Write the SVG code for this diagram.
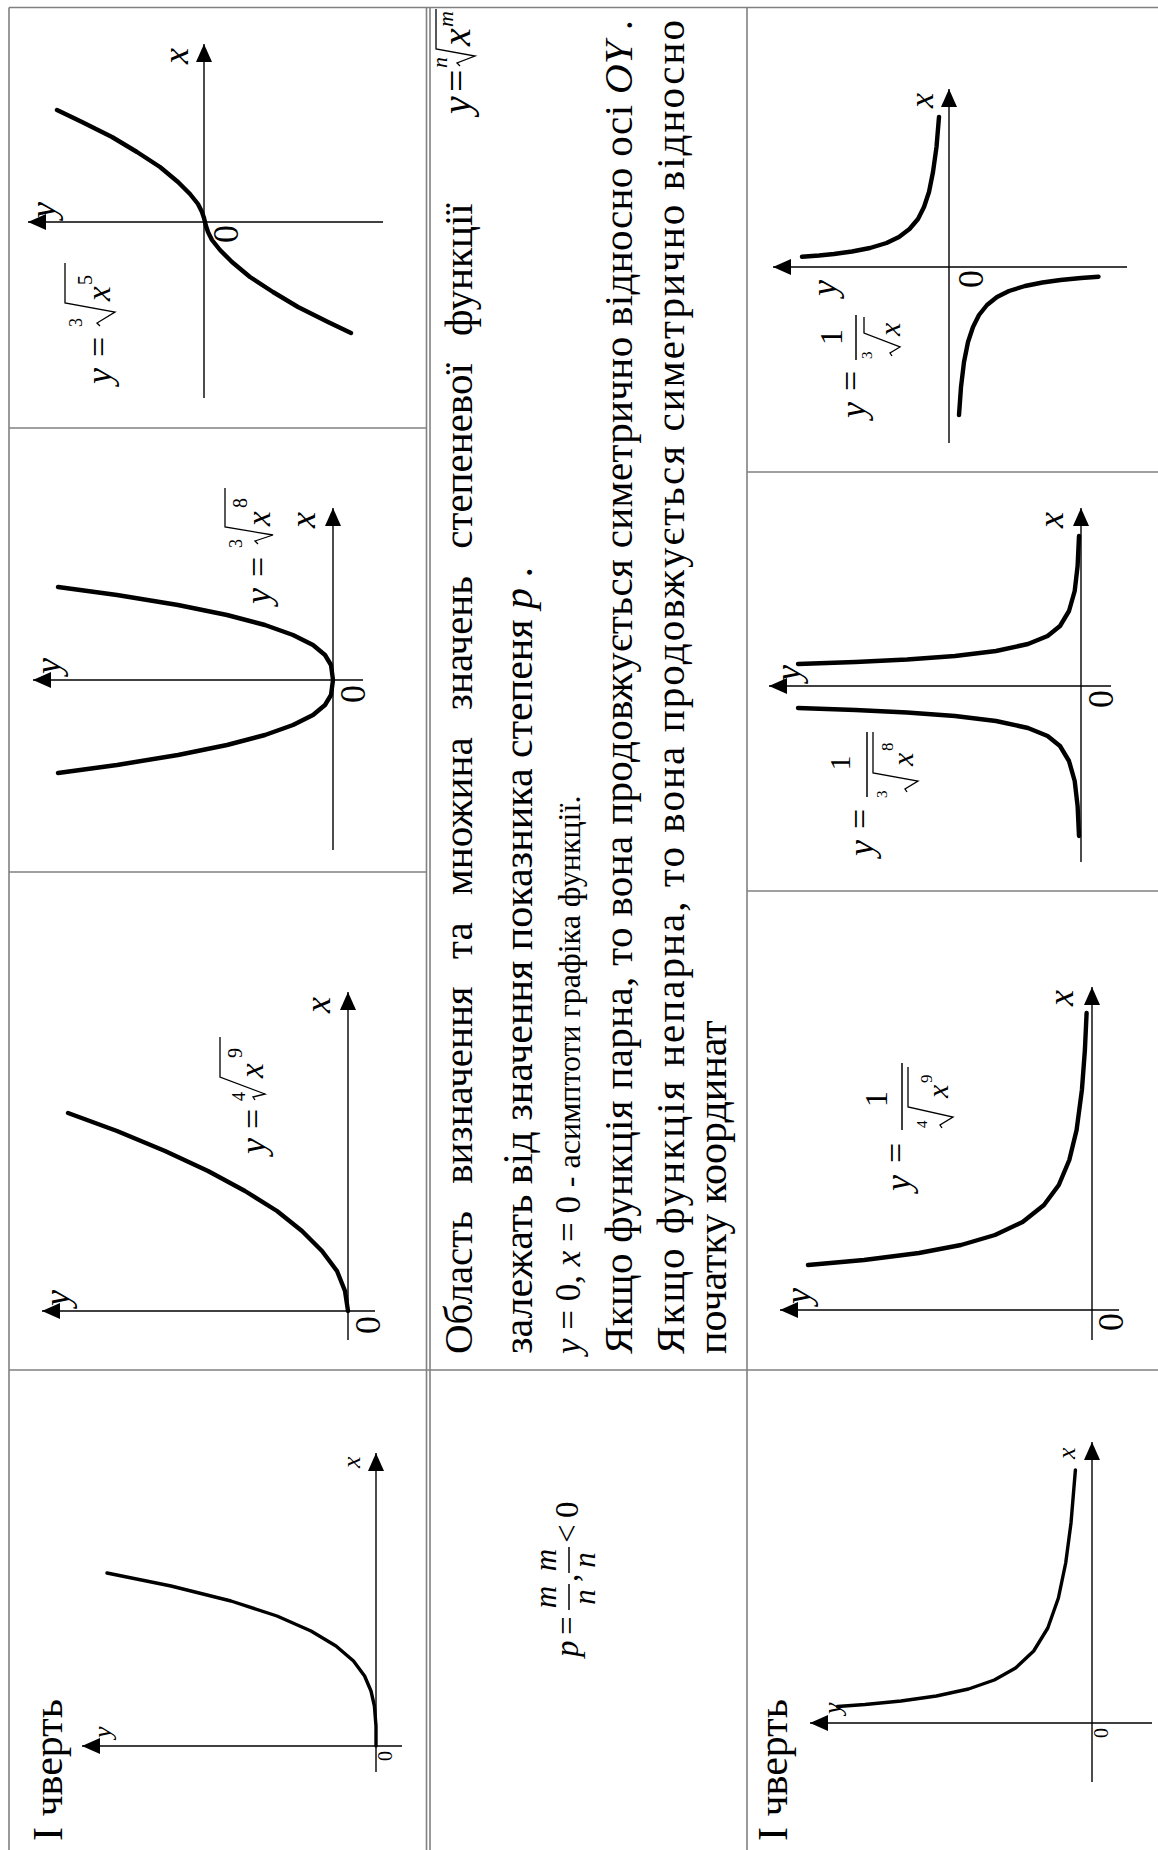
<svg xmlns="http://www.w3.org/2000/svg" width="1158" height="1850" viewBox="0 0 1158 1850">
<style>
text{font-family:"Liberation Serif","Times New Roman",serif;fill:#000}
.i{font-style:italic}
.grid{stroke:#808080;stroke-width:1.6;fill:none}
.ax{stroke:#000;stroke-width:1.4;fill:none;marker-end:url(#arr)}
.cv{stroke:#000;stroke-width:4.4;fill:none;stroke-linecap:round;stroke-linejoin:round}
.cv2{stroke-width:3.4}
.rad{stroke:#000;stroke-width:1.3;fill:none;stroke-linejoin:miter}
.bar{stroke:#000;stroke-width:1.5}
.p{font-size:41px}
</style>
<defs>
<marker id="arr" markerUnits="userSpaceOnUse" markerWidth="18" markerHeight="16" refX="18" refY="8" orient="auto" viewBox="0 0 18 16"><path d="M0,0 L18,8 L0,16 Z" fill="#000"/></marker>
</defs>
<rect width="1158" height="1850" fill="#fff"/>

<g id="table" class="grid">
<line x1="9" y1="7.5" x2="1158" y2="7.5"/>
<line x1="9" y1="7.5" x2="9" y2="1850"/>
<line x1="426.5" y1="7.5" x2="426.5" y2="1850"/>
<line x1="430" y1="7.5" x2="430" y2="1850"/>
<line x1="747" y1="7.5" x2="747" y2="1850"/>
<line x1="9" y1="428" x2="426.5" y2="428"/>
<line x1="9" y1="872" x2="426.5" y2="872"/>
<line x1="747" y1="472" x2="1158" y2="472"/>
<line x1="747" y1="891" x2="1158" y2="891"/>
<line x1="9" y1="1370" x2="1158" y2="1370"/>
</g>

<g id="cell-cbrt-x5">
<line class="ax" x1="204" y1="398" x2="204" y2="44"/>
<line class="ax" x1="383" y1="222" x2="28" y2="222"/>
<polyline class="cv" points="57,110 82,122 112,137 137,152 160,167 178,182 190,194 198,204 202,212 204,218 205,222 206,226 208,232 212,240 220,250 232,262 250,277 273,292 298,307 328,322 351,333"/>
<text class="i" font-size="36" x="188" y="64" transform="rotate(-90 188 64)">x</text>
<text class="i" font-size="36" x="55" y="218" transform="rotate(-90 55 218)">y</text>
<text font-size="36" x="238" y="243" transform="rotate(-90 238 243)">0</text>
<text class="i" font-size="36" x="111" y="384" transform="rotate(-90 111 384)">y</text>
<text font-size="36" x="111" y="357" transform="rotate(-90 111 357)">=</text>
<text font-size="18" x="82" y="327" transform="rotate(-90 82 327)">3</text>
<path class="rad" d="M100,326 L97,323 L115,312 L65,303 L65,263"/>
<text class="i" font-size="33" x="110" y="301" transform="rotate(-90 110 301)">x</text>
<text font-size="20" x="92" y="285" transform="rotate(-90 92 285)">5</text>
</g>

<g id="cell-cbrt-x8">
<line class="ax" x1="333" y1="850" x2="333" y2="508"/>
<line class="ax" x1="363" y1="680" x2="33" y2="680"/>
<polyline class="cv" points="58,587 117,595 178,605 227,615 265,625 293,635 313,645 325,655 331,665 333,680 331,695 325,705 313,715 293,725 265,735 227,745 178,755 117,765 58,773"/>
<text class="i" font-size="36" x="315" y="528" transform="rotate(-90 315 528)">x</text>
<text class="i" font-size="36" x="60" y="674" transform="rotate(-90 60 674)">y</text>
<text font-size="36" x="365" y="703" transform="rotate(-90 365 703)">0</text>
<text class="i" font-size="36" x="270" y="604" transform="rotate(-90 270 604)">y</text>
<text font-size="36" x="270" y="577" transform="rotate(-90 270 577)">=</text>
<text font-size="18" x="242" y="548" transform="rotate(-90 242 548)">3</text>
<path class="rad" d="M258,544 L255,541 L273,535 L225,527 L225,488"/>
<text class="i" font-size="33" x="270" y="526" transform="rotate(-90 270 526)">x</text>
<text font-size="20" x="247" y="508" transform="rotate(-90 247 508)">8</text>
</g>

<g id="cell-root4-x9">
<line class="ax" x1="348" y1="1340" x2="348" y2="992"/>
<line class="ax" x1="375" y1="1311" x2="42" y2="1311"/>
<polyline class="cv" points="68,1113 117,1131 165,1151 208,1171 245,1191 277,1211 302,1231 322,1251 337,1271 345,1291 348,1311"/>
<text class="i" font-size="36" x="330" y="1013" transform="rotate(-90 330 1013)">x</text>
<text class="i" font-size="36" x="69" y="1306" transform="rotate(-90 69 1306)">y</text>
<text font-size="36" x="380" y="1334" transform="rotate(-90 380 1334)">0</text>
<text class="i" font-size="36" x="265" y="1154" transform="rotate(-90 265 1154)">y</text>
<text font-size="36" x="265" y="1129" transform="rotate(-90 265 1129)">=</text>
<text font-size="18" x="245" y="1101" transform="rotate(-90 245 1101)">4</text>
<path class="rad" d="M255,1100 L253,1097 L265,1094 L220,1077 L220,1037"/>
<text class="i" font-size="33" x="263" y="1078" transform="rotate(-90 263 1078)">x</text>
<text font-size="20" x="242" y="1058" transform="rotate(-90 242 1058)">9</text>
</g>

<g id="cell-quarter-pos">
<text font-size="42" x="62" y="1841" transform="rotate(-90 62 1841)">I чверть</text>
<line class="ax" x1="376" y1="1772" x2="376" y2="1453"/>
<line class="ax" x1="402" y1="1746" x2="82" y2="1746"/>
<polyline class="cv cv2" points="107,1573 171,1586 231,1601 277,1616 311,1631 336,1646 353.5,1661 364.6,1676 371,1691 374.4,1706 376,1726 376,1746"/>
<text class="i" font-size="26" x="360" y="1468" transform="rotate(-90 360 1468)">x</text>
<text class="i" font-size="26" x="111" y="1738" transform="rotate(-90 111 1738)">y</text>
<text font-size="20" x="392" y="1761" transform="rotate(-90 392 1761)">0</text>
</g>

<g id="cell-text">
<text class="p" x="472" y="1354" word-spacing="17" transform="rotate(-90 472 1354)">Область визначення та множина значень степеневої функції</text>
<text class="i" font-size="40" x="470" y="114" transform="rotate(-90 470 114)">y</text>
<text font-size="40" x="470" y="92" transform="rotate(-90 470 92)">=</text>
<text class="i" font-size="22" x="447" y="68" transform="rotate(-90 447 68)">n</text>
<path class="rad" d="M460,66 L457,63 L475,56 L436,49 L436,9"/>
<text class="i" font-size="40" x="470" y="46" transform="rotate(-90 470 46)">x</text>
<text class="i" font-size="22" x="453" y="27" transform="rotate(-90 453 27)">m</text>
<text font-size="42" x="532" y="1354" transform="rotate(-90 532 1354)">залежать від значення показника степеня <tspan class="i">p</tspan> .</text>
<text font-size="35" x="580" y="1354" transform="rotate(-90 580 1354)"><tspan class="i">y</tspan> = 0, <tspan class="i">x</tspan> = 0 <tspan font-size="32">- асимптоти графіка функції.</tspan></text>
<text class="p" x="632" y="1354" textLength="1334" lengthAdjust="spacing" transform="rotate(-90 632 1354)">Якщо функція парна, то вона продовжується симетрично відносно осі <tspan class="i">OY</tspan> .</text>
<text class="p" x="684" y="1354" textLength="1334" lengthAdjust="spacing" transform="rotate(-90 684 1354)">Якщо функція непарна, то вона продовжується симетрично відносно</text>
<text font-size="42" x="726" y="1354" transform="rotate(-90 726 1354)">початку координат</text>
</g>

<g id="cell-p-formula">
<text class="i" font-size="33" x="578" y="1657" transform="rotate(-90 578 1657)">p</text>
<text font-size="33" x="578" y="1635" transform="rotate(-90 578 1635)">=</text>
<text class="i" font-size="31" x="556" y="1597" text-anchor="middle" transform="rotate(-90 556 1597)">m</text>
<line class="bar" x1="569" y1="1610" x2="569" y2="1584"/>
<text class="i" font-size="31" x="595" y="1597" text-anchor="middle" transform="rotate(-90 595 1597)">n</text>
<text font-size="33" x="578" y="1582" transform="rotate(-90 578 1582)">,</text>
<text class="i" font-size="31" x="556" y="1560" text-anchor="middle" transform="rotate(-90 556 1560)">m</text>
<line class="bar" x1="569" y1="1573" x2="569" y2="1547"/>
<text class="i" font-size="31" x="595" y="1560" text-anchor="middle" transform="rotate(-90 595 1560)">n</text>
<text font-size="33" x="578" y="1543" transform="rotate(-90 578 1543)">&lt;</text>
<text font-size="33" x="578" y="1518" transform="rotate(-90 578 1518)">0</text>
</g>

<g id="cell-inv-cbrt-x">
<line class="ax" x1="949" y1="443" x2="949" y2="89"/>
<line class="ax" x1="1127" y1="267" x2="773" y2="267"/>
<polyline class="cv" points="939,117 936.5,147 933,172 929,192 924,207 918,219 909.5,229 899,237 886.5,243 870,248 852,251.5 834,254 819,255.5 802,256.8"/>
<polyline class="cv" points="1098.5,276.7 1081,278 1060.5,280 1042.5,282.5 1025,286 1009,291 997,297 987,305 979,315 973,327 968,342 964,362 961,387 959,415"/>
<text class="i" font-size="34" x="933" y="108" transform="rotate(-90 933 108)">x</text>
<text class="i" font-size="36" x="836" y="296" transform="rotate(-90 836 296)">y</text>
<text font-size="36" x="983" y="288" transform="rotate(-90 983 288)">0</text>
<text class="i" font-size="36" x="865" y="418" transform="rotate(-90 865 418)">y</text>
<text font-size="36" x="863" y="391" transform="rotate(-90 863 391)">=</text>
<text font-size="32" x="842" y="337" text-anchor="middle" transform="rotate(-90 842 337)">1</text>
<line class="bar" x1="856" y1="315" x2="856" y2="360"/>
<text font-size="15" x="872" y="359" transform="rotate(-90 872 359)">3</text>
<path class="rad" d="M892,356 L890,353 L900,347 L864,333 L864,317"/>
<text class="i" font-size="30" x="900" y="336" transform="rotate(-90 900 336)">x</text>
</g>

<g id="cell-inv-cbrt-x8">
<line class="ax" x1="1081" y1="862" x2="1081" y2="508"/>
<line class="ax" x1="1111" y1="686" x2="769" y2="686"/>
<polyline class="cv" points="798,664 855.5,662 907,659.5 955,656 996,651 1028,644 1047.6,636 1060,626 1069,611 1074.7,591 1077.6,566 1079,536"/>
<polyline class="cv" points="798,708 855.5,710 907,712.5 955,716 996,721 1028,728 1047.6,736 1060,746 1069,761 1074.7,781 1077.6,806 1079,836"/>
<text class="i" font-size="36" x="1063" y="528" transform="rotate(-90 1063 528)">x</text>
<text class="i" font-size="36" x="800" y="681" transform="rotate(-90 800 681)">y</text>
<text font-size="36" x="1113" y="708" transform="rotate(-90 1113 708)">0</text>
<text class="i" font-size="36" x="873" y="856" transform="rotate(-90 873 856)">y</text>
<text font-size="36" x="872" y="829" transform="rotate(-90 872 829)">=</text>
<text font-size="30" x="850" y="763" text-anchor="middle" transform="rotate(-90 850 763)">1</text>
<line class="bar" x1="867" y1="732" x2="867" y2="797"/>
<text font-size="15" x="887" y="798" transform="rotate(-90 887 798)">3</text>
<path class="rad" d="M907,792 L905,789 L918,781 L873,773 L873,732"/>
<text class="i" font-size="30" x="913" y="766" transform="rotate(-90 913 766)">x</text>
<text font-size="17" x="893" y="751" transform="rotate(-90 893 751)">8</text>
</g>

<g id="cell-inv-root4-x9">
<line class="ax" x1="1092" y1="1340" x2="1092" y2="987"/>
<line class="ax" x1="1119" y1="1310" x2="780" y2="1310"/>
<polyline class="cv" points="808,1265 864,1260 919,1253 961,1245 995,1235 1022.6,1222 1044,1205 1058.8,1185 1069.3,1160 1076.6,1130 1081.9,1090 1084.9,1050 1086.6,1013"/>
<text class="i" font-size="36" x="1073" y="1006" transform="rotate(-90 1073 1006)">x</text>
<text class="i" font-size="36" x="810" y="1304" transform="rotate(-90 810 1304)">y</text>
<text font-size="36" x="1123" y="1331" transform="rotate(-90 1123 1331)">0</text>
<text class="i" font-size="36" x="910" y="1191" transform="rotate(-90 910 1191)">y</text>
<text font-size="36" x="908" y="1163" transform="rotate(-90 908 1163)">=</text>
<text font-size="32" x="887" y="1099" text-anchor="middle" transform="rotate(-90 887 1099)">1</text>
<line class="bar" x1="902" y1="1063" x2="902" y2="1130"/>
<text font-size="15" x="927" y="1128" transform="rotate(-90 927 1128)">4</text>
<path class="rad" d="M942,1128 L940,1125 L953,1117 L908,1107 L908,1067"/>
<text class="i" font-size="30" x="948" y="1098" transform="rotate(-90 948 1098)">x</text>
<text font-size="17" x="932" y="1083" transform="rotate(-90 932 1083)">9</text>
</g>

<g id="cell-quarter-neg">
<text font-size="42" x="787" y="1841" transform="rotate(-90 787 1841)">I чверть</text>
<line class="ax" x1="1092" y1="1782" x2="1092" y2="1442"/>
<line class="ax" x1="1152" y1="1723" x2="810" y2="1723"/>
<polyline class="cv cv2" points="1075.4,1470 1071,1523 1065.7,1563 1058.4,1598 1047.8,1628 1033.7,1651 1015.6,1668 994.3,1680 968.5,1689 936.4,1696 901,1701 865,1704.5 837.5,1706.5"/>
<text class="i" font-size="26" x="1075" y="1459" transform="rotate(-90 1075 1459)">x</text>
<text class="i" font-size="26" x="841" y="1714" transform="rotate(-90 841 1714)">y</text>
<text font-size="20" x="1108" y="1738" transform="rotate(-90 1108 1738)">0</text>
</g>
</svg>
